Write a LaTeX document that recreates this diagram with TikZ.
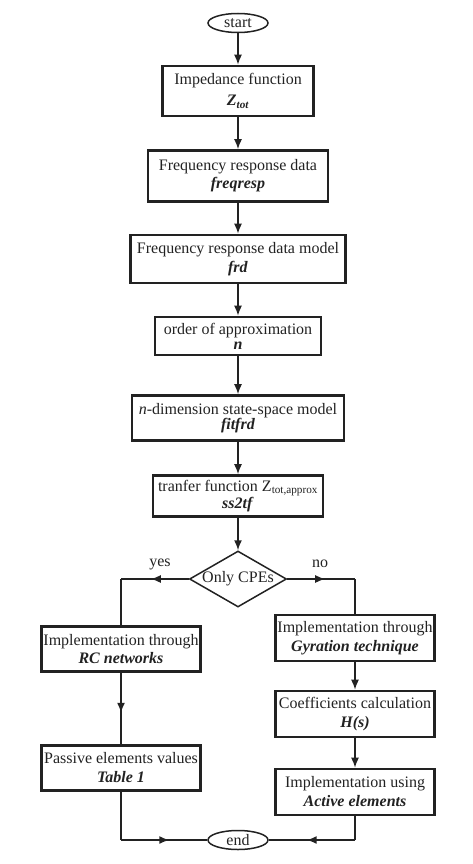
\documentclass[tikz,border=0pt]{standalone}
\usepackage{fontspec}
\setmainfont{Liberation Serif}
\usetikzlibrary{shapes.geometric,arrows.meta,decorations.markings}
\definecolor{ink}{HTML}{222222}

\tikzset{
  box/.style={draw=ink, line width=2.6pt, rectangle, align=center, inner sep=0pt,
    font=\fontsize{16}{#1}\selectfont, text=ink},
  box/.default=19,
  term/.style={draw=ink, line width=1.5pt, ellipse, minimum width=60pt,
    minimum height=19pt, inner sep=0pt, font=\fontsize{16}{19}\selectfont, text=ink},
  flow/.style={draw=ink, line width=1.5pt, -{Latex[length=10pt,width=8pt]}},
  line/.style={draw=ink, line width=1.5pt},
  midarrow/.style={line, postaction={decorate},
    decoration={markings, mark=at position 0.56 with {\arrow{Latex[length=10pt,width=8pt]}}}},
}
\newcommand{\bi}[1]{\textbf{\textit{#1}}}

\begin{document}
\begin{tikzpicture}[x=1pt,y=-1pt]
\useasboundingbox (0,0) rectangle (472,864);

\node[term] (start) at (238,23) {start};
\node[box=21, minimum width=151pt, minimum height=50pt] (imp) at (238,91)
  {Impedance function\\\bi{Z\textsubscript{tot}}};
\node[box=18, minimum width=180pt, minimum height=51pt] (resp) at (238,176)
  {Frequency response data\\\bi{freqresp}};
\node[box, minimum width=215pt, minimum height=48pt] (frd) at (238,259)
  {Frequency response data model\\\bi{frd}};
\node[box=15, minimum width=166pt, minimum height=38pt] (order) at (238,336)
  {order of approximation\\\bi{n}};
\node[box=14.5, minimum width=212pt, minimum height=45pt] (fit) at (238,418)
  {\textit{n}-dimension state-space model\\\bi{fitfrd}};
\node[box=13, minimum width=170pt, minimum height=41pt] (tf) at (238,496)
  {tranfer function Z\textsubscript{tot,approx}\\\bi{ss2tf}};

\node[draw=ink, line width=1.5pt, diamond, minimum width=97pt, minimum height=56pt,
  inner sep=0pt] (cpe) at (238,579) {};
\node[font=\fontsize{16}{19}\selectfont, text=ink] at (cpe) {Only CPEs};

\node[box=18, minimum width=159pt, minimum height=45pt] (rc) at (121,649)
  {Implementation through\\\bi{RC networks}};
\node[box, minimum width=159pt, minimum height=45pt] (pas) at (121,768)
  {Passive elements values\\\bi{Table 1}};
\node[box, minimum width=159pt, minimum height=46pt] (gyr) at (355,638)
  {Implementation through\\\bi{Gyration technique}};
\node[box, minimum width=159pt, minimum height=46pt] (coef) at (355,714)
  {Coefficients calculation\\\bi{H(s)}};
\node[box, minimum width=159pt, minimum height=46pt] (act) at (355,792)
  {Implementation using\\\bi{Active elements}};
\node[term] (end) at (238,840) {end};

\node[font=\fontsize{16}{19}\selectfont, text=ink] (yes) at (160,564) {yes};
\node[font=\fontsize{16}{19}\selectfont, text=ink] (no) at (320,564) {no};

\coordinate (yc) at (121,579);
\coordinate (nc) at (355,579);
\coordinate (pc) at (121,840);
\coordinate (ac) at (355,840);

\draw[flow] (start) -- (imp);
\draw[flow] (imp) -- (resp);
\draw[flow] (resp) -- (frd);
\draw[flow] (frd) -- (order);
\draw[flow] (order) -- (fit);
\draw[flow] (fit) -- (tf);
\draw[flow] (tf) -- (cpe);

\draw[midarrow] (cpe.west) -- (yc);
\draw[line] (yc) -- (rc.north);
\draw[midarrow] (rc) -- (pas);
\draw[line] (pas) -- (pc);
\draw[midarrow] (pc) -- (end.west);

\draw[midarrow] (cpe.east) -- (nc);
\draw[line] (nc) -- (gyr.north);
\draw[flow] (gyr) -- (coef);
\draw[flow] (coef) -- (act);
\draw[line] (act) -- (ac);
\draw[midarrow] (ac) -- (end.east);
\end{tikzpicture}
\end{document}
